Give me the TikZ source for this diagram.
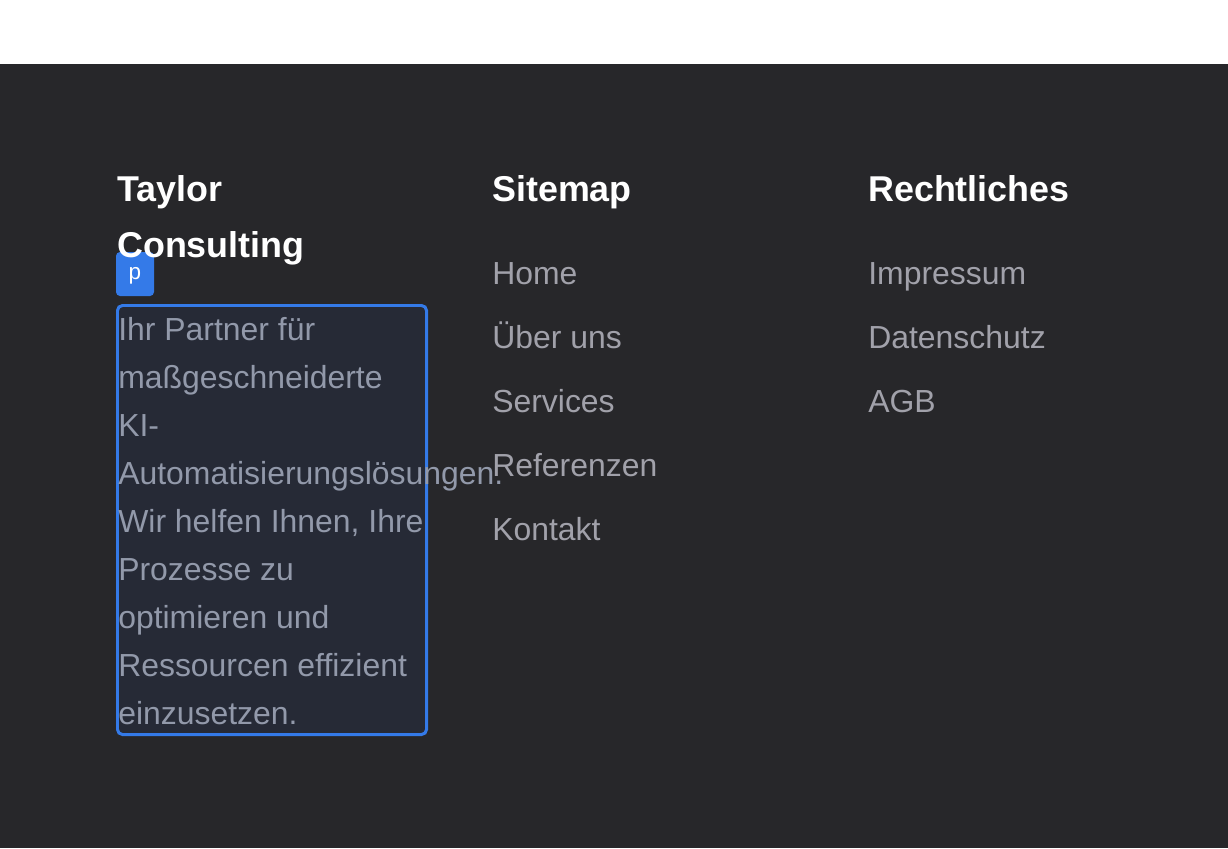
\documentclass[tikz,border=0pt]{standalone}
\usepackage{fontspec}
\setmainfont{Liberation Sans}
\definecolor{BG}{RGB}{39,39,42}
\definecolor{TX}{RGB}{161,161,170}
\definecolor{PT}{RGB}{146,153,170}
\definecolor{BX}{RGB}{38,42,54}
\definecolor{BL}{RGB}{52,122,232}
\tikzset{
  titel/.style={anchor=base west, inner sep=0, text=white,
    font=\fontsize{25.5pt}{30pt}\selectfont\bfseries},
  link/.style={anchor=base west, inner sep=0, text=TX,
    font=\fontsize{22.7pt}{34pt}\selectfont},
  zeile/.style={link, text=PT}
}

\begin{document}
\begin{tikzpicture}[x=0.025cm, y=-0.025cm]
   	\useasboundingbox (0,0) rectangle (1228,848);
   	\fill[color=white] (0,0) rectangle (1228,64);
   	\fill[color=BG] (0,64) rectangle (1228,848);

	%Markierung des Absatzes
   	\draw[color=BL, fill=BX, line width=3*0.7087pt, rounded corners=5*0.7087pt] (117.5,305.5) rectangle (426.5,734.5);
   	\fill[color=BL, rounded corners=4*0.7087pt] (116,252) rectangle (154,296);
   	\node[text=white, font=\fontsize{16pt}{18pt}\selectfont, inner sep=0] (tag) at (135,276) {p};

	%Spalte 1
   	\node[titel] (taylor) at (117,201) {Taylor};
   	\node[titel] (consulting) at (117,257) {Consulting};
   	\foreach \t [count=\i] in {Ihr Partner für, maßgeschneiderte, KI-,
   	    Automatisierungslösungen., {Wir helfen Ihnen, Ihre}, Prozesse zu,
   	    optimieren und, Ressourcen effizient, einzusetzen.}
   	  \node[zeile] (z\i) at (118,292+48*\i) {\t};

	%Spalte 2
   	\node[titel] (sitemap) at (492,201) {Sitemap};
   	\node[link] (home) at (492,284) {Home};
   	\node[link] (ueber) at (492,348) {Über uns};
   	\node[link] (services) at (492,412) {Services};
   	\node[link] (referenzen) at (492,476) {Referenzen};
   	\node[link] (kontakt) at (492,540) {Kontakt};

	%Spalte 3
   	\node[titel] (recht) at (868,201) {Rechtliches};
   	\node[link] (impressum) at (868,284) {Impressum};
   	\node[link] (datenschutz) at (868,348) {Datenschutz};
   	\node[link] (agb) at (868,412) {AGB};
\end{tikzpicture}
\end{document}
